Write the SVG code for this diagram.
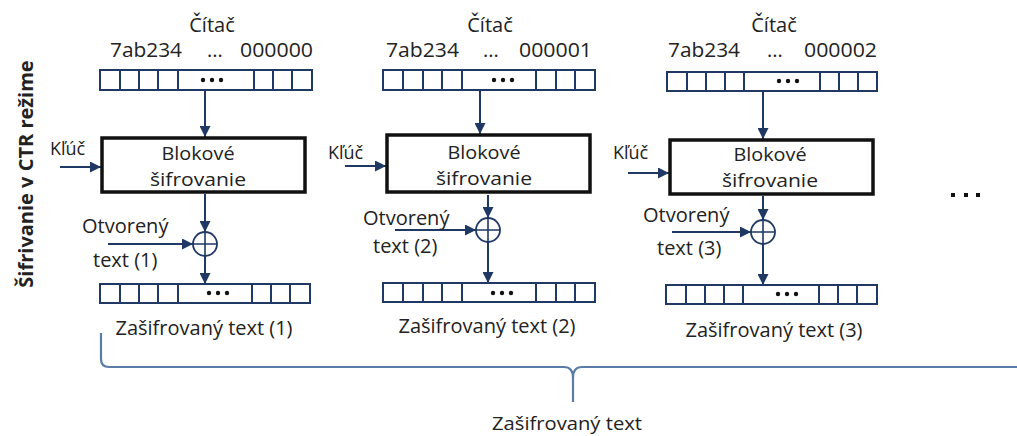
<svg xmlns="http://www.w3.org/2000/svg" width="1017" height="436" viewBox="0 0 1017 436">
<defs>
<style>
text{font-family:"Open Sans","Liberation Sans",sans-serif;font-size:20px;fill:#222}
.mid{text-anchor:middle}
.bk{font-size:18.5px}
.reg{fill:#fff;stroke:#1f3864;stroke-width:2}
.cell{stroke:#1f3864;stroke-width:2}
.blk{fill:#fff;stroke:#111;stroke-width:3.5}
.ar{fill:none;stroke:#1f3864;stroke-width:2;marker-end:url(#ah)}
.xor{fill:#fff;stroke:#1f3864;stroke-width:1.8}
.dot{fill:#111}
.brace{fill:none;stroke:#5b7ca8;stroke-width:2.2}
</style>
<marker id="ah" viewBox="0 0 10 10" refX="10" refY="5" markerWidth="12" markerHeight="11" markerUnits="userSpaceOnUse" orient="auto">
<path d="M0,0 L10,5 L0,10 Z" fill="#1f3864"/>
</marker>
</defs>
<rect width="1017" height="436" fill="#fff"/>

<text id="side-label" transform="translate(33,174) rotate(-90)" class="mid" style="font-weight:bold">Šifrivanie v CTR režime</text>

<g id="connectors">
  <path class="ar" d="M205,91 V137"/>
  <path class="ar" d="M60,167 H101"/>
  <path class="ar" d="M205,194 V232"/>
  <path class="ar" d="M108,244 H193"/>
  <path class="ar" d="M205,256 V284"/>
  <path class="ar" d="M480,91 V134"/>
  <path class="ar" d="M345,166 H386"/>
  <path class="ar" d="M488,195 V218"/>
  <path class="ar" d="M395,230 H476"/>
  <path class="ar" d="M488,242 V283"/>
  <path class="ar" d="M763,92 V139"/>
  <path class="ar" d="M628,173 H669"/>
  <path class="ar" d="M763,196 V220"/>
  <path class="ar" d="M672,232 H751"/>
  <path class="ar" d="M763,244 V285"/>
</g>

<g id="col1">
  <g id="counter1">
    <text x="212" y="32" class="mid">Čítač</text>
    <text x="110" y="57" textLength="72" lengthAdjust="spacingAndGlyphs">7ab234</text>
    <text x="215" y="57" class="mid">...</text>
    <text x="240" y="57" textLength="73" lengthAdjust="spacingAndGlyphs">000000</text>
    <rect class="reg" x="100" y="70" width="212" height="20"/>
    <path class="cell" d="M120,70V90M139,70V90M158,70V90M178,70V90M254,70V90M273,70V90M292,70V90"/>
    <circle class="dot" cx="203" cy="80" r="2.2"/><circle class="dot" cx="212" cy="80" r="2.2"/><circle class="dot" cx="221" cy="80" r="2.2"/>
  </g>
  <g id="cipher1">
    <rect class="blk" x="102" y="138" width="203" height="54"/>
    <text x="198" y="160" class="mid bk" textLength="73" lengthAdjust="spacingAndGlyphs">Blokové</text>
    <text x="198" y="186" class="mid bk" textLength="96" lengthAdjust="spacingAndGlyphs">šifrovanie</text>
  </g>
  <text id="key1" x="50" y="155" style="font-size:18px">Kľúč</text>
  <g id="xor1">
    <circle class="xor" cx="205" cy="244" r="12"/>
    <path class="cell" d="M193,244H217M205,232V256" style="stroke-width:1.6"/>
  </g>
  <g id="plain1">
    <text x="82" y="233">Otvorený</text>
    <text x="93" y="267">text (1)</text>
  </g>
  <g id="ct1">
    <rect class="reg" x="100" y="284" width="210" height="19"/>
    <path class="cell" d="M120,284V303M139,284V303M158,284V303M178,284V303M252,284V303M271,284V303M290,284V303"/>
    <circle class="dot" cx="209" cy="293" r="2.2"/><circle class="dot" cx="218" cy="293" r="2.2"/><circle class="dot" cx="227" cy="293" r="2.2"/>
    <text x="204" y="335" class="mid">Zašifrovaný text (1)</text>
  </g>
</g>

<g id="col2">
  <g id="counter2">
    <text x="490" y="32" class="mid">Čítač</text>
    <text x="386" y="57" textLength="73" lengthAdjust="spacingAndGlyphs">7ab234</text>
    <text x="491" y="57" class="mid">...</text>
    <text x="519" y="57" textLength="73" lengthAdjust="spacingAndGlyphs">000001</text>
    <rect class="reg" x="383" y="70" width="212" height="20"/>
    <path class="cell" d="M403,70V90M423,70V90M442,70V90M462,70V90M536,70V90M556,70V90M575,70V90"/>
    <circle class="dot" cx="494" cy="80" r="2.2"/><circle class="dot" cx="503" cy="80" r="2.2"/><circle class="dot" cx="512" cy="80" r="2.2"/>
  </g>
  <g id="cipher2">
    <rect class="blk" x="387" y="135" width="203" height="57"/>
    <text x="484" y="159" class="mid bk" textLength="73" lengthAdjust="spacingAndGlyphs">Blokové</text>
    <text x="484" y="185" class="mid bk" textLength="96" lengthAdjust="spacingAndGlyphs">šifrovanie</text>
  </g>
  <text id="key2" x="328" y="159" style="font-size:18px">Kľúč</text>
  <g id="xor2">
    <circle class="xor" cx="488" cy="230" r="12"/>
    <path class="cell" d="M476,230H500M488,218V242" style="stroke-width:1.6"/>
  </g>
  <g id="plain2">
    <text x="363" y="225">Otvorený</text>
    <text x="373" y="253">text (2)</text>
  </g>
  <g id="ct2">
    <rect class="reg" x="383" y="283" width="212" height="19"/>
    <path class="cell" d="M403,283V302M423,283V302M442,283V302M462,283V302M536,283V302M556,283V302M575,283V302"/>
    <circle class="dot" cx="493" cy="293" r="2.2"/><circle class="dot" cx="502" cy="293" r="2.2"/><circle class="dot" cx="511" cy="293" r="2.2"/>
    <text x="487" y="333" class="mid">Zašifrovaný text (2)</text>
  </g>
</g>

<g id="col3">
  <g id="counter3">
    <text x="774" y="32" class="mid">Čítač</text>
    <text x="668" y="57" textLength="72" lengthAdjust="spacingAndGlyphs">7ab234</text>
    <text x="775" y="57" class="mid">...</text>
    <text x="804" y="57" textLength="73" lengthAdjust="spacingAndGlyphs">000002</text>
    <rect class="reg" x="667" y="72" width="210" height="19"/>
    <path class="cell" d="M687,72V91M706,72V91M725,72V91M744,72V91M820,72V91M839,72V91M858,72V91"/>
    <circle class="dot" cx="779" cy="81" r="2.2"/><circle class="dot" cx="788" cy="81" r="2.2"/><circle class="dot" cx="797" cy="81" r="2.2"/>
  </g>
  <g id="cipher3">
    <rect class="blk" x="670" y="140" width="203" height="54"/>
    <text x="770" y="161" class="mid bk" textLength="73" lengthAdjust="spacingAndGlyphs">Blokové</text>
    <text x="770" y="187" class="mid bk" textLength="96" lengthAdjust="spacingAndGlyphs">šifrovanie</text>
  </g>
  <text id="key3" x="613" y="159" style="font-size:18px">Kľúč</text>
  <g id="xor3">
    <circle class="xor" cx="763" cy="232" r="12"/>
    <path class="cell" d="M751,232H775M763,220V244" style="stroke-width:1.6"/>
  </g>
  <g id="plain3">
    <text x="643" y="222">Otvorený</text>
    <text x="657" y="255">text (3)</text>
  </g>
  <g id="ct3">
    <rect class="reg" x="666" y="285" width="211" height="19"/>
    <path class="cell" d="M686,285V304M705,285V304M724,285V304M743,285V304M819,285V304M838,285V304M857,285V304"/>
    <circle class="dot" cx="778" cy="294" r="2.2"/><circle class="dot" cx="787" cy="294" r="2.2"/><circle class="dot" cx="796" cy="294" r="2.2"/>
    <text x="774" y="337" class="mid">Zašifrovaný text (3)</text>
  </g>
</g>

<g id="more">
  <rect class="dot" x="951" y="193" width="4" height="4"/>
  <rect class="dot" x="964" y="193" width="4" height="4"/>
  <rect class="dot" x="976" y="193" width="4" height="4"/>
</g>

<g id="brace">
  <path class="brace" d="M101,333 V359 Q101,367 109,367 H564 Q573,367 573,378 V402 M573,378 Q573,367 582,367 H1017"/>
  <text x="567" y="430" class="mid" style="font-size:18px" textLength="150" lengthAdjust="spacingAndGlyphs">Zašifrovaný text</text>
</g>
</svg>
